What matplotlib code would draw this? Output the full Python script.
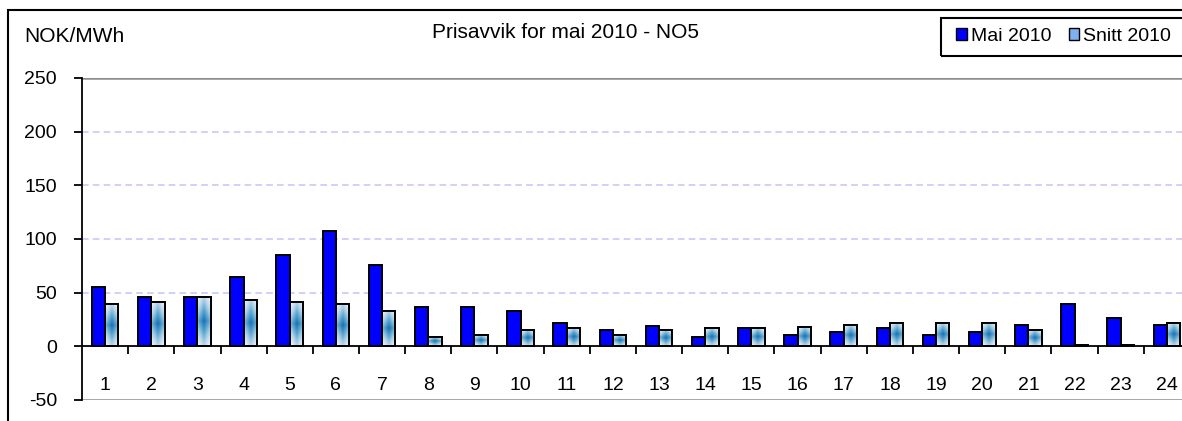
import matplotlib
matplotlib.use("Agg")
import matplotlib.pyplot as plt
import numpy as np
from matplotlib.patches import Rectangle, Patch

plt.rcParams['font.family'] = ['Liberation Sans', 'DejaVu Sans']
plt.rcParams['axes.unicode_minus'] = False

timer = list(range(1, 25))
mai_2010 = [55, 46, 46, 65, 85, 107, 76, 37, 37, 33, 22, 15,
            19, 9, 17, 11, 13, 17, 11, 13, 20, 39, 26, 20]
snitt_2010 = [39, 41, 46, 43, 41, 39, 33, 9, 11, 15, 17, 11,
              15, 17, 17, 18, 20, 22, 22, 22, 15, 1.5, 1.5, 22]

W, H = 1182, 421
fig = plt.figure(figsize=(W / 100, H / 100), dpi=100)
ax = fig.add_axes([82 / W, 1 - 400 / H, (1190 - 82) / W, (400 - 78) / H])

x = np.array(timer)
w = 0.29
ax.bar(x - w / 2, mai_2010, w, color='#0000ff', edgecolor='black', linewidth=1.4, zorder=3)
snitt = ax.bar(x + w / 2, snitt_2010, w, color='#bcdcf8', edgecolor='black', linewidth=1.4, zorder=3)

# lys blaa gradient i snitt-soylene
grad = np.abs(np.linspace(-1, 1, 40))[:, None] * 0.6 + np.abs(np.linspace(-1, 1, 20))[None, :] * 0.4
for b in snitt:
    bx, by = b.get_x(), b.get_y()
    bw, bh = b.get_width(), b.get_height()
    im = ax.imshow(grad, cmap='Blues_r', vmin=-0.3, vmax=1.0, aspect='auto',
                   extent=[bx, bx + bw, by, by + bh], zorder=3.5, interpolation='bilinear')
    im.set_clip_path(b)
    ax.add_patch(Rectangle((bx, by), bw, bh, fill=False, edgecolor='black', lw=1.4, zorder=4))

ax.set_xlim(0.5, 24.5)
ax.set_ylim(-50, 250)

# rutenett
for yv in [50, 100, 150, 200]:
    ax.axhline(yv, color='#c8c8f8', lw=1.2, ls=(0, (4, 2.5)), zorder=1)
ax.axhline(250, color='#8c8c8c', lw=1.8, zorder=1)
ax.axhline(-50, color='#8c8c8c', lw=1.8, zorder=1)

for s in ['top', 'right']:
    ax.spines[s].set_visible(False)
ax.spines['bottom'].set_position(('data', 0))
ax.spines['bottom'].set_zorder(5)
ax.spines['left'].set_linewidth(1.3)
ax.spines['bottom'].set_linewidth(1.3)

ax.set_yticks([-50, 0, 50, 100, 150, 200, 250])
ax.tick_params(axis='y', direction='out', length=6, width=1.3, pad=12, labelsize=14)
ax.set_xticks(x[:-1] + 0.5)
ax.set_xticklabels([])
ax.tick_params(axis='x', which='major', direction='out', length=6, width=1.3)
ax.set_xticks(x, minor=True)
ax.set_xticklabels([str(t) for t in timer], minor=True)
ax.tick_params(axis='x', which='minor', length=0, pad=22, labelsize=14)

fig.text(24 / W, 1 - 36 / H, 'NOK/MWh', fontsize=15, va='center', ha='left')
fig.text(565 / W, 1 - 33 / H, 'Prisavvik for mai 2010 - NO5', fontsize=15, va='center', ha='center')

handles = [Patch(facecolor='#0000ff', edgecolor='black', lw=1),
           Patch(facecolor='#7fb0f0', edgecolor='black', lw=1)]
leg = fig.legend(handles, ['Mai 2010', 'Snitt 2010'], loc='center left',
                 bbox_to_anchor=(956 / W, 1 - 36.7 / H), ncol=2, fontsize=14,
                 frameon=False, handlelength=0.55, handleheight=0.55,
                 handletextpad=0.2, columnspacing=0.9, borderpad=0, borderaxespad=0)
fig.patches.append(Rectangle((941 / W, 1 - 55.7 / H), 0.3, 38 / H, transform=fig.transFigure,
                             fill=False, edgecolor='black', lw=1.5))

fig.patches.append(Rectangle((8 / W, -0.1), 1.2, 1.1 - 10 / H, transform=fig.transFigure,
                             fill=False, edgecolor='black', lw=1.5))

fig.savefig('out.png', dpi=100)
